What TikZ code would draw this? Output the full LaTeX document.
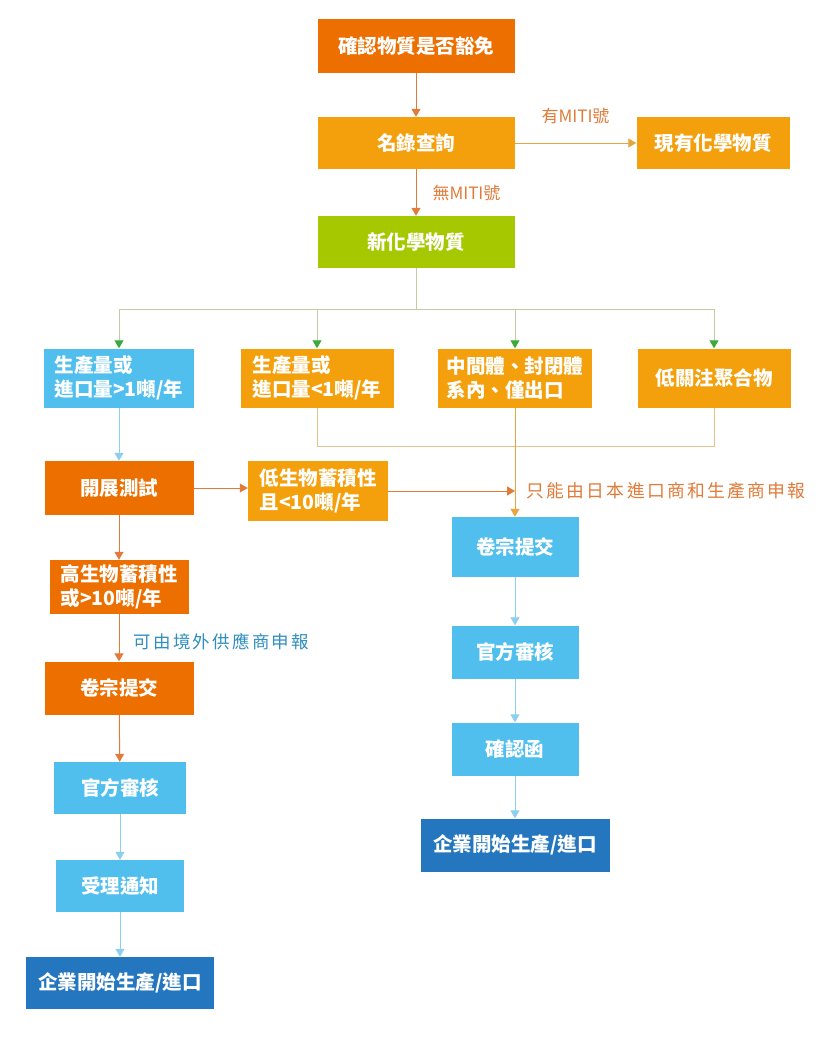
\documentclass[tikz,border=0pt]{standalone}
\usepackage{fontspec}
\setmainfont{Noto Sans CJK TC}
\newfontfamily\spaced[LetterSpace=13]{Noto Sans CJK TC}
\usetikzlibrary{arrows.meta,positioning}

\definecolor{deeporange}{HTML}{EC6F00}
\definecolor{midorange}{HTML}{F4A00D}
\definecolor{leafgreen}{HTML}{A6C800}
\definecolor{skyblue}{HTML}{50BFEE}
\definecolor{navyblue}{HTML}{2476BE}
\definecolor{arroworange}{HTML}{E07B39}
\definecolor{lineorange}{HTML}{E8A640}
\definecolor{joinorange}{HTML}{E6C28E}
\definecolor{arrowgreen}{HTML}{3AAB3A}
\definecolor{branchgray}{HTML}{C4C9A6}
\definecolor{arrowblue}{HTML}{8DCFEE}
\definecolor{labelblue}{HTML}{2F8FC0}

\begin{document}
\begin{tikzpicture}[x=1pt,y=-1pt,
  box/.style={inner sep=0pt,text=white,align=left,font=\fontsize{19.5}{24}\selectfont\bfseries},
  tip/.style={-{Triangle[width=9pt,length=8pt]}},
  flowo/.style={tip,arroworange,line width=1pt},
  flowy/.style={tip,lineorange,line width=1pt},
  flowb/.style={tip,arrowblue,line width=1pt},
  branch/.style={-{Triangle[width=9pt,length=8pt,color=arrowgreen]},branchgray,line width=1pt},
  note/.style={inner sep=0pt,font=\fontsize{17}{20}\selectfont}]
 \useasboundingbox[fill=white] (0,0) rectangle (821,1057);

 % top part
 \node[box,fill=deeporange,minimum width=197pt,minimum height=53pt] (check) at (416,46) {確認物質是否豁免};
 \node[box,fill=midorange,minimum width=197pt,minimum height=52pt] (query) at (416,143) {名錄查詢};
 \node[box,fill=midorange,minimum width=153pt,minimum height=52pt] (exist) at (713,143) {現有化學物質};
 \node[box,fill=leafgreen,minimum width=197pt,minimum height=52pt] (new) at (416,242) {新化學物質};

 % four cases
 \node[box,fill=skyblue,minimum width=150pt,minimum height=59pt] (big) at (119,378) {生產量或\\進口量>1噸/年};
 \node[box,fill=midorange,minimum width=153pt,minimum height=59pt] (small) at (317,378) {生產量或\\進口量<1噸/年};
 \node[box,fill=midorange,minimum width=154pt,minimum height=59pt] (mid) at (515,378) {中間體、封閉體\\系內、僅出口};
 \node[box,fill=midorange,minimum width=153pt,minimum height=59pt] (poly) at (714,378) {低關注聚合物};

 % left column
 \node[box,fill=deeporange,minimum width=149pt,minimum height=54pt] (test) at (119,488) {開展測試};
 \node[box,fill=midorange,minimum width=140pt,minimum height=60pt] (low) at (318,491) {低生物蓄積性\\且<10噸/年};
 \node[box,fill=deeporange,minimum width=139pt,minimum height=54pt] (high) at (119,587) {高生物蓄積性\\或>10噸/年};
 \node[box,fill=deeporange,minimum width=149pt,minimum height=53pt] (fileL) at (119,688) {卷宗提交};
 \node[box,fill=skyblue,minimum width=132pt,minimum height=52pt] (reviewL) at (120,788) {官方審核};
 \node[box,fill=skyblue,minimum width=128pt,minimum height=52pt] (notice) at (120,886) {受理通知};
 \node[box,fill=navyblue,minimum width=188pt,minimum height=52pt] (startL) at (120,983) {企業開始生產/進口};

 % right column
 \node[box,fill=skyblue,minimum width=127pt,minimum height=60pt] (fileR) at (515,547) {卷宗提交};
 \node[box,fill=skyblue,minimum width=127pt,minimum height=53pt] (reviewR) at (515,652) {官方審核};
 \node[box,fill=skyblue,minimum width=127pt,minimum height=53pt] (letter) at (515,749) {確認函};
 \node[box,fill=navyblue,minimum width=189pt,minimum height=53pt] (startR) at (515,845) {企業開始生產/進口};

 \coordinate (fork) at (416,309); %分岐
 \coordinate (meet) at (515,491); %合流

 % connectors
 \draw[flowo] (check) -- (query);
 \draw[flowy] (query) -- node[note,above=19pt,text=arroworange] (yes) {有MITI號} (exist);
 \draw[flowo] (query) -- node[note,right=16pt,text=arroworange] (no) {無MITI號} (new);
 \draw[branchgray,line width=1pt] (new) -- (fork);
 \draw[branch] (fork) -| (big);
 \draw[branch] (fork) -| (poly);
 \draw[branch] (small.north |- fork) -- (small);
 \draw[branch] (mid.north |- fork) -- (mid);
 \draw[joinorange,line width=1pt] (small.south) -- ++(0,39) -| (poly.south);
 \draw[flowy] (mid) -- (fileR);
 \draw[flowb] (big) -- (test);
 \draw[flowo] (test) -- (low.west |- test);
 \draw[flowo] (low.east |- meet) -- (meet) node[right=11pt,inner sep=0pt,text=arroworange,font=\spaced\fontsize{17.8}{22}\selectfont] (japan) {只能由日本進口商和生產商申報};
 \draw[flowo] (test) -- (high);
 \draw[flowo] (high) -- node[pos=.58,right=14pt,inner sep=0pt,text=labelblue,font=\spaced\fontsize{17.5}{20}\selectfont] (abroad) {可由境外供應商申報} (fileL);
 \draw[flowo] (fileL) -- (reviewL);
 \draw[flowb] (reviewL) -- (notice);
 \draw[flowb] (notice) -- (startL);
 \draw[flowb] (fileR) -- (reviewR);
 \draw[flowb] (reviewR) -- (letter);
 \draw[flowb] (letter) -- (startR);
\end{tikzpicture}
\end{document}
